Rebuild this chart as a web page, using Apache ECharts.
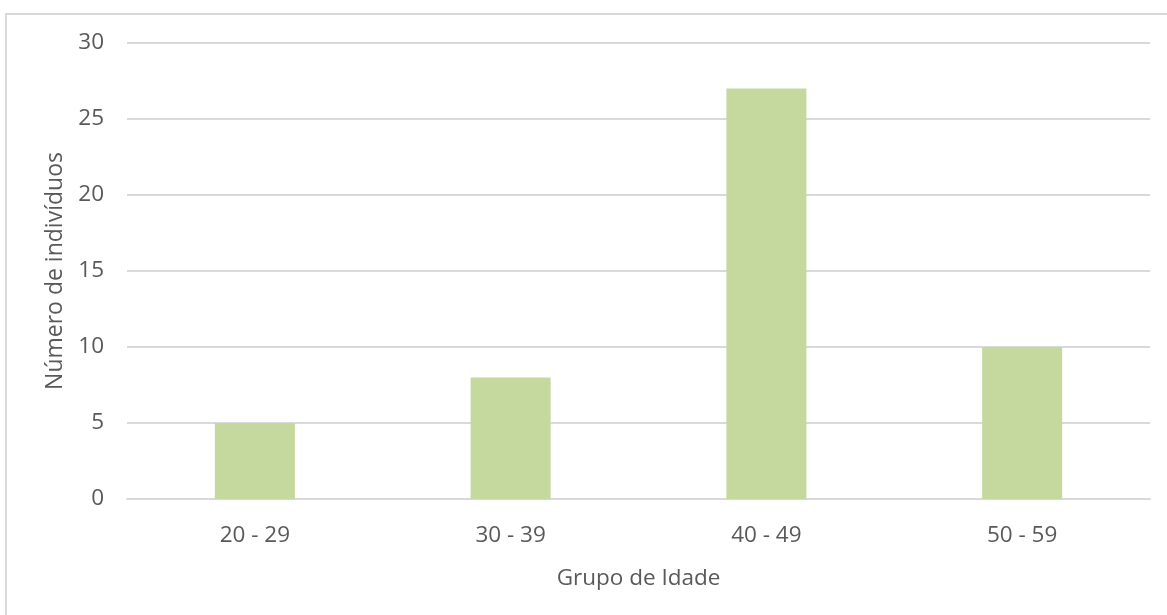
<!DOCTYPE html>
<html>
<head>
<meta charset="utf-8">
<style>
  html, body { margin: 0; padding: 0; background: #fff; }
  #chart { width: 1167px; height: 615px; }
</style>
<script src="https://cdn.jsdelivr.net/npm/echarts@6/dist/echarts.min.js"></script>
</head>
<body>
<div id="chart"></div>
<script>
// Age groups and number of individuals in each
const categories = ['20 - 29', '30 - 39', '40 - 49', '50 - 59'];
const individuals = [5, 8, 27, 10];
const yTicks = { min: 0, max: 30, interval: 5 };

const textColor = '#595959';
const fontFamily = '"Open Sans", "Noto Sans", sans-serif';
const fontSize = 22.5;

const chart = echarts.init(document.getElementById('chart'), null, { renderer: 'canvas' });
chart.setOption({
  backgroundColor: '#ffffff',
  animation: false,
  graphic: [{
    type: 'rect',
    shape: { x: 6, y: 14, width: 1200, height: 700 },
    style: { fill: 'none', stroke: '#d9d9d9', lineWidth: 2 },
    silent: true
  }],
  grid: { left: 127, right: 17, top: 43, bottom: 116, containLabel: false },
  xAxis: {
    type: 'category',
    data: categories,
    name: 'Grupo de Idade',
    nameLocation: 'middle',
    nameGap: 68,
    nameTextStyle: { color: textColor, fontSize, fontFamily },
    axisLine: { show: true, lineStyle: { color: '#d9d9d9', width: 2 } },
    axisTick: { show: false },
    axisLabel: { color: textColor, fontSize, fontFamily, margin: 25 }
  },
  yAxis: {
    type: 'value',
    min: yTicks.min,
    max: yTicks.max,
    interval: yTicks.interval,
    name: 'Número de indivíduos',
    nameLocation: 'middle',
    nameGap: 60,
    nameTextStyle: { color: textColor, fontSize: 23, fontFamily },
    axisLine: { show: false },
    axisTick: { show: false },
    axisLabel: { color: textColor, fontSize, fontFamily, margin: 23 },
    splitLine: { lineStyle: { color: '#d9d9d9', width: 2 } }
  },
  series: [{
    type: 'bar',
    data: individuals,
    barWidth: 80,
    itemStyle: { color: '#c5d89d' }
  }]
});
</script>
</body>
</html>
